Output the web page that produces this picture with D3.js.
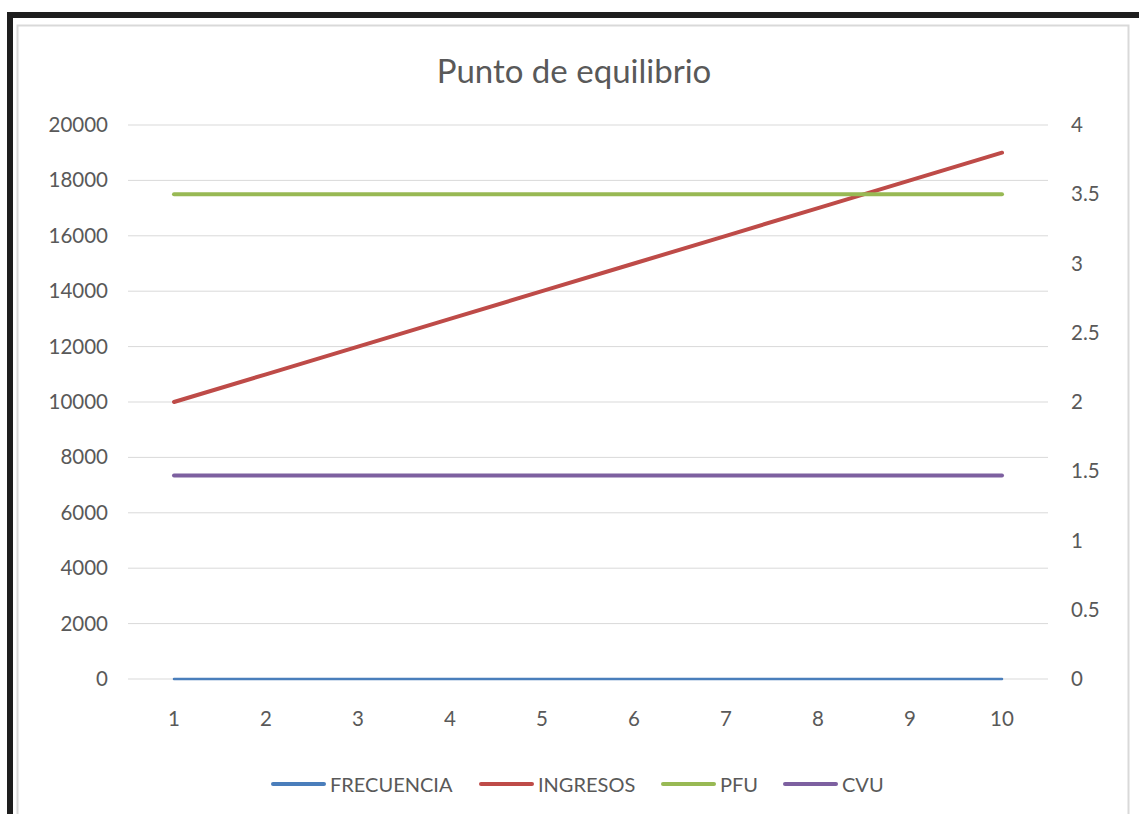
<!DOCTYPE html>
<html>
<head>
<meta charset="utf-8">
<script src="https://cdn.jsdelivr.net/npm/d3@7"></script>
<style>
  html, body { margin: 0; padding: 0; background: #ffffff; }
  svg { display: block; }
  text { font-family: Lato, "Open Sans", "Liberation Sans", sans-serif; fill: #595959; }
</style>
</head>
<body>
<svg id="chart" width="1139" height="814"></svg>
<script>
// Periods on the category axis
const periods = [1, 2, 3, 4, 5, 6, 7, 8, 9, 10];

// Series values (FRECUENCIA and INGRESOS on the left axis, PFU and CVU on the right axis)
const frecuencia = [0, 0, 0, 0, 0, 0, 0, 0, 0, 0];
const ingresos = [10000, 11000, 12000, 13000, 14000, 15000, 16000, 17000, 18000, 19000];
const pfu = [3.5, 3.5, 3.5, 3.5, 3.5, 3.5, 3.5, 3.5, 3.5, 3.5];
const cvu = [1.47, 1.47, 1.47, 1.47, 1.47, 1.47, 1.47, 1.47, 1.47, 1.47];

// Axis tick labels
const leftTicks = [0, 2000, 4000, 6000, 8000, 10000, 12000, 14000, 16000, 18000, 20000];
const rightTicks = [0, 0.5, 1, 1.5, 2, 2.5, 3, 3.5, 4];

const seriesNames = ["FRECUENCIA", "INGRESOS", "PFU", "CVU"];
const seriesColors = ["#4a7ebb", "#be4b48", "#98b954", "#7d60a0"];

const svg = d3.select("#chart");

// Outer frame: dark band on top and left, light chart border inside
svg.append("rect").attr("x", 7).attr("y", 12).attr("width", 1132).attr("height", 6).attr("fill", "#1e1e1e");
svg.append("rect").attr("x", 7).attr("y", 12).attr("width", 6).attr("height", 802).attr("fill", "#1e1e1e");
svg.append("rect").attr("x", 17.5).attr("y", 25.5).attr("width", 1111).attr("height", 800)
  .attr("fill", "none").attr("stroke", "#d9d9d9").attr("stroke-width", 2);

const plot = { left: 128, right: 1048, top: 125, bottom: 679 };

const x = d3.scaleBand().domain(periods).range([plot.left, plot.right]);
const yLeft = d3.scaleLinear().domain([0, 20000]).range([plot.bottom, plot.top]);
const yRight = d3.scaleLinear().domain([0, 4]).range([plot.bottom, plot.top]);

const tickFont = "20.5px";

// Horizontal gridlines
svg.append("g")
  .selectAll("line")
  .data(leftTicks)
  .join("line")
  .attr("x1", plot.left).attr("x2", plot.right)
  .attr("y1", d => yLeft(d)).attr("y2", d => yLeft(d))
  .attr("stroke", "#d9d9d9").attr("stroke-width", 1);

// Left axis
const leftAxis = svg.append("g")
  .attr("transform", `translate(${plot.left - 20},0)`)
  .call(d3.axisLeft(yLeft).tickValues(leftTicks).tickSize(0).tickPadding(0).tickFormat(d3.format("d")));
leftAxis.select(".domain").remove();
leftAxis.selectAll("text").style("font-size", tickFont).attr("fill", "#595959")
  .style("font-family", "Lato, 'Open Sans', sans-serif");

// Right axis
const rightAxis = svg.append("g")
  .attr("transform", `translate(${plot.right + 23},0)`)
  .call(d3.axisRight(yRight).tickValues(rightTicks).tickSize(0).tickPadding(0).tickFormat(d => String(d)));
rightAxis.select(".domain").remove();
rightAxis.selectAll("text").style("font-size", tickFont).attr("fill", "#595959")
  .style("font-family", "Lato, 'Open Sans', sans-serif");

// Bottom category axis
const bottomAxis = svg.append("g")
  .attr("transform", `translate(0,${plot.bottom + 32})`)
  .call(d3.axisBottom(x).tickSize(0).tickPadding(0));
bottomAxis.select(".domain").remove();
bottomAxis.selectAll("text").style("font-size", tickFont).attr("fill", "#595959")
  .style("font-family", "Lato, 'Open Sans', sans-serif");

// Series lines
const cx = (d, i) => x(periods[i]) + x.bandwidth() / 2;
const series = [
  { values: frecuencia, scale: yLeft },
  { values: ingresos, scale: yLeft },
  { values: pfu, scale: yRight },
  { values: cvu, scale: yRight }
];
series.forEach((s, k) => {
  const line = d3.line().x(cx).y(d => s.scale(d));
  svg.append("path")
    .datum(s.values)
    .attr("d", line)
    .attr("fill", "none")
    .attr("stroke", seriesColors[k])
    .attr("stroke-width", k === 0 ? 2.5 : 4)
    .attr("stroke-linecap", "round")
    .attr("stroke-linejoin", "round");
});

// Title
svg.append("text")
  .attr("x", 574).attr("y", 83)
  .attr("text-anchor", "middle")
  .style("font-size", "33px")
  .text("Punto de equilibrio");

// Legend
const legendX = [273, 481, 663, 785];
const legend = svg.append("g");
seriesNames.forEach((name, k) => {
  legend.append("line")
    .attr("x1", legendX[k]).attr("x2", legendX[k] + 51)
    .attr("y1", 784).attr("y2", 784)
    .attr("stroke", seriesColors[k]).attr("stroke-width", 4)
    .attr("stroke-linecap", "round");
  legend.append("text")
    .attr("x", legendX[k] + 57).attr("y", 791.5)
    .style("font-size", "20px")
    .text(name);
});
</script>
</body>
</html>
